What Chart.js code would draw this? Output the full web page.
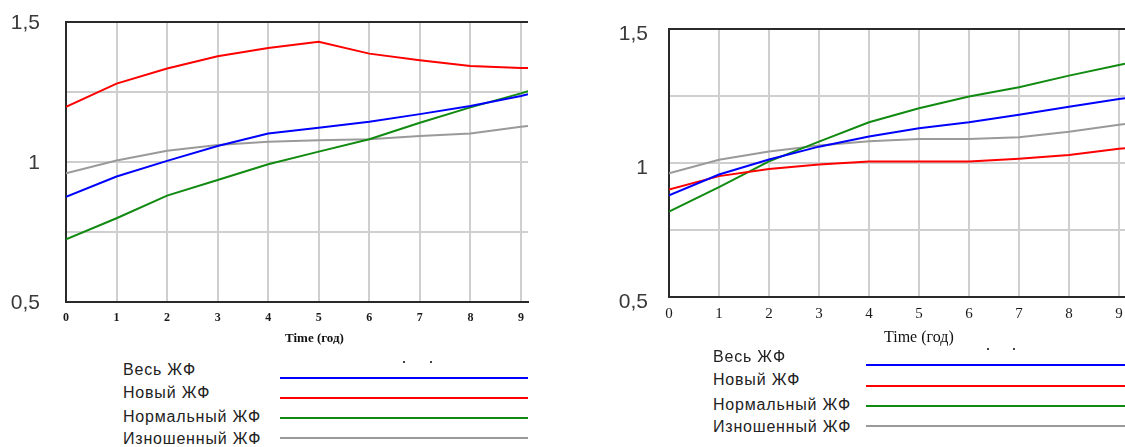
<!DOCTYPE html>
<html lang="ru">
<head>
<meta charset="utf-8">
<title>Жилищный фонд</title>
<script src="https://cdn.jsdelivr.net/npm/chart.js@4.4.0/dist/chart.umd.min.js"></script>
<style>
    body {
        margin: 0;
        width: 1125px;
        height: 447px;
        position: relative;
        overflow: hidden;
        background: #fff;
        font-family: "Liberation Sans", Arial, sans-serif;
    }
    .chart-box { position: absolute; }
    .caption {
        position: absolute;
        font-family: "Liberation Serif", "Times New Roman", serif;
        color: #111;
        white-space: nowrap;
        line-height: 1;
        transform: translateY(-50%);
    }
    .legend-label {
        position: absolute;
        font-size: 16px;
        color: #222;
        letter-spacing: 0.8px;
        white-space: nowrap;
        line-height: 1;
        transform: translateY(-50%);
    }
    .legend-line { position: absolute; height: 2px; }
    .dot { position: absolute; width: 2px; height: 2px; background: #444; }
</style>
</head>
<body>

<div class="chart-box" style="left:0; top:0; width:530px; height:345px;"><canvas id="chartLeft"></canvas></div>
<div class="chart-box" style="left:600px; top:0; width:525px; height:345px;"><canvas id="chartRight"></canvas></div>

<div class="caption" style="left:285px; top:337px; font-size:13px; font-weight:bold;">Time (год)</div>
<div class="caption" style="left:884px; top:337px; font-size:16px;">Time (год)</div>

<div class="dot" style="left:403px; top:361px;"></div>
<div class="dot" style="left:430px; top:361px;"></div>
<div class="dot" style="left:987px; top:348px;"></div>
<div class="dot" style="left:1013px; top:348px;"></div>

<div id="legendLeft"></div>
<div id="legendRight"></div>

<script>
// Названия рядов и цвета
const seriesNames = ['Весь ЖФ', 'Новый ЖФ', 'Нормальный ЖФ', 'Изношенный ЖФ'];
const seriesColors = ['#0000ff', '#ff0000', '#108a10', '#9a9a9a'];

// Ось времени (годы), последняя точка - правый край графика
const timeLeft = [0, 1, 2, 3, 4, 5, 6, 7, 8, 9, 9.14];
const timeRight = [0, 1, 2, 3, 4, 5, 6, 7, 8, 9, 9.12];
const xTicks = [0, 1, 2, 3, 4, 5, 6, 7, 8, 9];
const yTickLabels = { 0.5: '0,5', 1: '1', 1.5: '1,5' };

// Левый график
const leftAll    = [0.876, 0.948, 1.004, 1.057, 1.102, 1.122, 1.144, 1.171, 1.200, 1.236, 1.242];
const leftNew    = [1.197, 1.280, 1.334, 1.378, 1.407, 1.429, 1.387, 1.363, 1.343, 1.336, 1.336];
const leftNormal = [0.724, 0.799, 0.880, 0.936, 0.992, 1.037, 1.081, 1.140, 1.195, 1.245, 1.253];
const leftWorn   = [0.960, 1.005, 1.040, 1.061, 1.072, 1.078, 1.081, 1.093, 1.102, 1.126, 1.129];

// Правый график
const rightAll    = [0.879, 0.957, 1.013, 1.061, 1.099, 1.130, 1.152, 1.180, 1.210, 1.239, 1.242];
const rightNew    = [0.901, 0.951, 0.978, 0.994, 1.006, 1.006, 1.006, 1.016, 1.030, 1.053, 1.055];
const rightNormal = [0.819, 0.910, 1.006, 1.080, 1.152, 1.204, 1.248, 1.283, 1.326, 1.366, 1.370];
const rightWorn   = [0.962, 1.012, 1.043, 1.065, 1.081, 1.090, 1.090, 1.096, 1.117, 1.143, 1.146];

// Верхняя рамка области графика
const topBorder = {
    id: 'topBorder',
    afterDraw(chart) {
        const { ctx, chartArea } = chart;
        ctx.save();
        ctx.strokeStyle = '#2a2a2a';
        ctx.lineWidth = 2;
        ctx.beginPath();
        ctx.moveTo(chartArea.left - 1, chartArea.top);
        ctx.lineTo(chartArea.right, chartArea.top);
        ctx.stroke();
        ctx.restore();
    }
};

function makeDatasets(time, series) {
    return series.map((values, i) => ({
        label: seriesNames[i],
        data: values.map((v, j) => ({ x: time[j], y: v })),
        borderColor: seriesColors[i],
        borderWidth: 2,
        pointRadius: 0,
        tension: 0,
        fill: false
    }));
}

function makeChart(id, time, series, opt) {
    const ctx = document.getElementById(id).getContext('2d');
    return new Chart(ctx, {
        type: 'line',
        data: { datasets: makeDatasets(time, series) },
        options: {
            responsive: true,
            maintainAspectRatio: false,
            animation: false,
            layout: { padding: { top: opt.top, right: opt.right, left: 0, bottom: 0 } },
            plugins: { legend: { display: false }, tooltip: { enabled: false } },
            scales: {
                x: {
                    type: 'linear',
                    min: 0,
                    max: time[time.length - 1],
                    afterBuildTicks: (scale) => { scale.ticks = xTicks.map(v => ({ value: v })); },
                    afterFit: (scale) => {
                        scale.height = opt.xHeight;
                        scale.paddingLeft = 0;
                        scale.paddingRight = 0;
                    },
                    ticks: {
                        font: opt.xFont,
                        color: '#1a1a1a',
                        padding: opt.xPad,
                        maxRotation: 0,
                        autoSkip: false
                    },
                    grid: { color: '#cfcfcf', lineWidth: 2, drawTicks: false },
                    border: { color: '#2a2a2a', width: 2 }
                },
                y: {
                    type: 'linear',
                    min: 0.5,
                    max: 1.5,
                    afterFit: (scale) => {
                        scale.width = opt.yWidth;
                        scale.paddingTop = 0;
                        scale.paddingBottom = 0;
                    },
                    ticks: {
                        stepSize: 0.25,
                        font: { family: '"Liberation Sans", Arial, sans-serif', size: 21 },
                        color: '#3a3a3a',
                        padding: opt.yPad,
                        labelOffset: opt.yOffset,
                        callback: (value) => yTickLabels[value] || ''
                    },
                    grid: { color: '#cfcfcf', lineWidth: 2, drawTicks: false },
                    border: { color: '#2a2a2a', width: 2 }
                }
            }
        },
        plugins: [topBorder]
    });
}

function buildLegend(id, labelX, labelYs, lineX1, lineX2, lineYs) {
    const box = document.getElementById(id);
    box.innerHTML = seriesNames.map((name, i) => `
        <div class="legend-label" style="left:${labelX}px; top:${labelYs[i]}px;">${name}</div>
        <div class="legend-line" style="left:${lineX1}px; top:${lineYs[i] - 1}px; width:${lineX2 - lineX1}px; background:${seriesColors[i]};"></div>
    `).join('');
}

makeChart('chartLeft', timeLeft, [leftAll, leftNew, leftNormal, leftWorn], {
    top: 22, right: 2, yWidth: 66, xHeight: 43, yPad: 26, yOffset: 1, xPad: 9,
    xFont: { family: '"Liberation Serif", serif', size: 12, weight: 'bold' }
});

makeChart('chartRight', timeRight, [rightAll, rightNew, rightNormal, rightWorn], {
    top: 29, right: 0, yWidth: 69, xHeight: 48, yPad: 21, yOffset: 5, xPad: 8,
    xFont: { family: '"Liberation Serif", serif', size: 15 }
});

buildLegend('legendLeft', 123, [370, 393, 417, 439], 280, 528, [378, 398, 418, 438]);
buildLegend('legendRight', 713, [357, 380, 405, 427], 866, 1125, [365, 386, 406, 426]);
</script>
</body>
</html>
